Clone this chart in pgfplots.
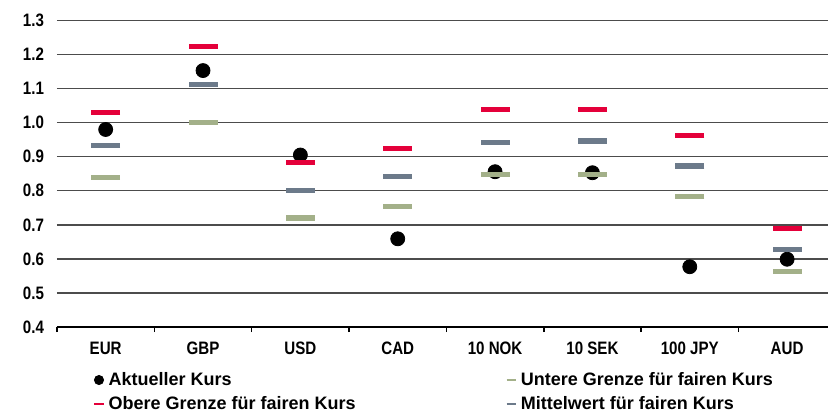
\documentclass[border=0pt]{standalone}
\usepackage{pgfplots}
\pgfplotsset{compat=1.18}
\usepackage{fontspec}
\setmainfont{Liberation Sans}[FakeStretch=0.84]
\newfontfamily\legfont{Liberation Sans}
\definecolor{cred}{RGB}{228,0,58}
\definecolor{cgray}{RGB}{108,122,138}
\definecolor{cgreen}{RGB}{163,176,137}
\begin{document}
\begin{tikzpicture}
\useasboundingbox (-28.5pt,-42.5pt) rectangle (385.5pt,163.5pt);
\begin{axis}[
  scale only axis,
  width=385.5pt, height=153.25pt,
  xmin=-0.5, xmax=7.42,
  ymin=0.4, ymax=1.3,
  ytick={0.4,0.5,...,1.3},
  xtick={0,...,7},
  xticklabels={EUR,GBP,USD,CAD,10 NOK,10 SEK,100 JPY,AUD},
  minor xtick={-0.5,0.5,...,6.5},
  xtick pos=bottom, ytick pos=left,
  tick align=outside,
  major tick length=0pt,
  minor tick length=2.6pt,
  minor tick style={black, line width=0.8pt},
  axis line style={draw=none},
  ymajorgrids,
  major grid style={black!70, line width=0.7pt},
  yticklabel style={/pgf/number format/.cd, fixed, fixed zerofill, precision=1, /tikz/.cd, xshift=-3pt},
  /pgf/number format/assume math mode=true,
  xticklabel style={yshift=-4pt},
  tick label style={font=\bfseries\fontsize{9}{11}\selectfont},
  clip=false,
  legend columns=2,
  legend cell align=left,
  legend style={draw=none, fill=none, font=\legfont\bfseries\fontsize{9}{11}\selectfont,
    at={(rel axis cs:0,0)}, anchor=north west, xshift=18pt, yshift=-20.3pt,
    inner sep=0pt, row sep=0pt,
    /tikz/every even column/.append style={column sep=73pt}},
]
\addplot[only marks, mark=*, mark size=3.5pt, black,
  legend image code/.code={\fill[black] (2.3pt,0pt) circle (2.3pt);}]
  coordinates {(0,0.980) (1,1.153) (2,0.905) (3,0.659) (4,0.856) (5,0.853) (6,0.577) (7,0.599)};
\addlegendentry{Aktueller Kurs}
\addplot[only marks, mark=-, mark size=7.25pt, cgreen, mark options={line width=2.6pt},
  legend image code/.code={\draw[cgreen, line width=1pt] (0pt,0pt) -- (4.6pt,0pt);}]
  coordinates {(0,0.838) (1,1.000) (2,0.720) (3,0.755) (4,0.847) (5,0.847) (6,0.784) (7,0.562)};
\addlegendentry{Untere Grenze für fairen Kurs}
\addplot[only marks, mark=-, mark size=7.25pt, cred, mark options={line width=2.6pt},
  legend image code/.code={\draw[cred, line width=1pt] (0pt,0pt) -- (4.6pt,0pt);}]
  coordinates {(0,1.030) (1,1.223) (2,0.883) (3,0.924) (4,1.038) (5,1.038) (6,0.962) (7,0.690)};
\addlegendentry{Obere Grenze für fairen Kurs}
\addplot[only marks, mark=-, mark size=7.25pt, cgray, mark options={line width=2.6pt},
  legend image code/.code={\draw[cgray, line width=1pt] (0pt,0pt) -- (4.6pt,0pt);}]
  coordinates {(0,0.934) (1,1.111) (2,0.802) (3,0.841) (4,0.942) (5,0.946) (6,0.873) (7,0.628)};
\addlegendentry{Mittelwert für fairen Kurs}
\draw[black, line width=1.3pt] (rel axis cs:0,0) -- (rel axis cs:1,0);
\end{axis}
\end{tikzpicture}
\end{document}
